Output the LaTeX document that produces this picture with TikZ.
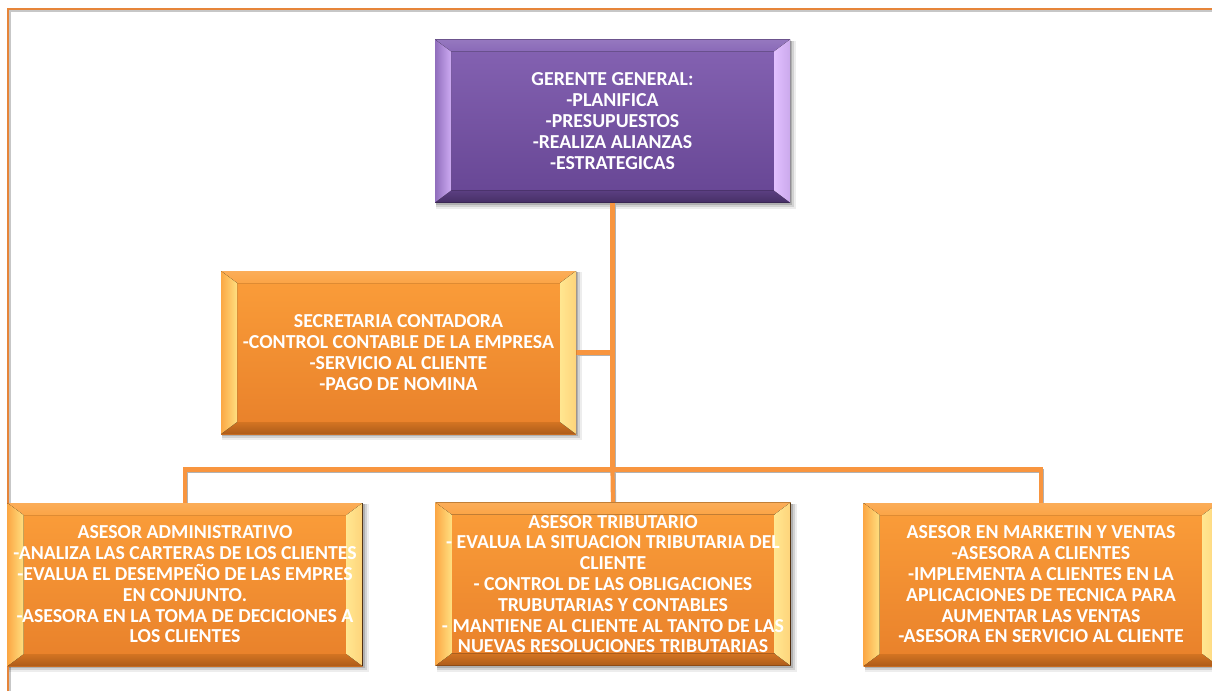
\documentclass[tikz,border=0pt]{standalone}
\usepackage{fontspec}
\setmainfont{Carlito}
\usetikzlibrary{backgrounds}

\definecolor{frameor}{HTML}{E6853A}
\definecolor{linkor}{HTML}{F8953F}
\definecolor{pTop}{HTML}{8563B3}
\definecolor{pBot}{HTML}{664593}
\definecolor{pLeft}{HTML}{CDAAF2}
\definecolor{pRight}{HTML}{E2C0FF}
\definecolor{pUp}{HTML}{8A69B8}
\definecolor{pDown}{HTML}{533878}
\definecolor{oTop}{HTML}{FB9E3A}
\definecolor{oBot}{HTML}{E8802A}
\definecolor{oLeft}{HTML}{FFDF80}
\definecolor{oRight}{HTML}{FFE690}
\definecolor{oUp}{HTML}{FBA446}
\definecolor{oDown}{HTML}{CC6C1E}

% bevelled frame drawn inside a box: #1 left, #2 right, #3 top, #4 bottom, #5 base colour
\newcommand\bevelframe[5]{%
  \coordinate (bNW) at (path picture bounding box.north west);
  \coordinate (bNE) at (path picture bounding box.north east);
  \coordinate (bSW) at (path picture bounding box.south west);
  \coordinate (bSE) at (path picture bounding box.south east);
  \fill[top color=#3!90!white, bottom color=#3]
    (bNW) -- (bNE) -- ([xshift=-16pt,yshift=-12pt]bNE) -- ([xshift=16pt,yshift=-12pt]bNW) -- cycle;
  \fill[top color=#4!85!#5, bottom color=#4!85!black]
    (bSW) -- (bSE) -- ([xshift=-16pt,yshift=12pt]bSE) -- ([xshift=16pt,yshift=12pt]bSW) -- cycle;
  \fill[left color=#5!85!#1, right color=#1]
    (bNW) -- ([xshift=16pt,yshift=-12pt]bNW) -- ([xshift=16pt,yshift=12pt]bSW) -- (bSW) -- cycle;
  \fill[left color=#2, right color=#2!75!#5]
    (bNE) -- ([xshift=-16pt,yshift=-12pt]bNE) -- ([xshift=-16pt,yshift=12pt]bSE) -- (bSE) -- cycle;
}

\tikzset{
  box/.style={rectangle, minimum width=355pt, minimum height=163pt,
    inner sep=0pt, outer sep=0pt, text=white, align=center,
    font=\bfseries\fontsize{19.8}{20.8}\selectfont},
  purplebox/.style={box, top color=pTop, bottom color=pBot,
    path picture={\bevelframe{pLeft}{pRight}{pUp}{pDown}{pTop}}},
  orangebox/.style={box, top color=oTop, bottom color=oBot,
    path picture={\bevelframe{oLeft}{oRight}{oUp}{oDown}{oTop}}},
  link/.style={draw=linkor, line width=4.2pt},
  linkshade/.style={draw=black!30, line width=4.2pt},
}

\newcommand\boxshadow[1]{%
  \foreach \d/\o in {6/0.07,4/0.11,2.2/0.16}{
    \fill[black, opacity=\o]
      ([xshift=1pt,yshift=-\d pt]#1.south west) rectangle ([xshift=\d pt,yshift=-1pt]#1.north east);
  }%
}

\begin{document}
\begin{tikzpicture}[x=1pt, y=-1pt]
  \useasboundingbox (0,0) rectangle (1212,691);
  \clip (0,0) rectangle (1212,691);

  % boxes
  \node[purplebox] (gg) at (612.5,121) {GERENTE GENERAL:\\-PLANIFICA\\-PRESUPUESTOS\\-REALIZA ALIANZAS\\-ESTRATEGICAS};
  \node[orangebox] (sec) at (398.5,352.5) {SECRETARIA CONTADORA\\-CONTROL CONTABLE DE LA EMPRESA\\-SERVICIO AL CLIENTE\\-PAGO DE NOMINA};
  \node[orangebox] (adm) at (185,584.5) {ASESOR ADMINISTRATIVO\\-ANALIZA LAS CARTERAS DE LOS CLIENTES\\-EVALUA EL DESEMPEÑO DE LAS EMPRES\\EN CONJUNTO.\\-ASESORA EN LA TOMA DE DECICIONES A\\LOS CLIENTES};
  \node[orangebox] (trib) at (613,584) {ASESOR TRIBUTARIO\\- EVALUA LA SITUACION TRIBUTARIA DEL\\CLIENTE\\- CONTROL DE LAS OBLIGACIONES\\TRUBUTARIAS Y CONTABLES\\- MANTIENE AL CLIENTE AL TANTO DE LAS\\NUEVAS RESOLUCIONES TRIBUTARIAS};
  \node[orangebox] (mkt) at (1041,584.5) {ASESOR EN MARKETIN Y VENTAS\\-ASESORA A CLIENTES\\-IMPLEMENTA A CLIENTES EN LA\\APLICACIONES DE TECNICA PARA\\AUMENTAR LAS VENTAS\\-ASESORA EN SERVICIO AL CLIENTE};

  \coordinate (hub) at (612.5,469.5);

  \begin{scope}[on background layer]
    \fill[white] (0,0) rectangle (1212,691);
    % page frame
    \draw[black!22, line width=1.2pt] (10,691) -- (10,11) -- (1212,11);
    \draw[frameor, line width=2.8pt] (8,691) -- (8,9) -- (1212,9);
    \boxshadow{gg}
    \boxshadow{sec}
    \boxshadow{adm}
    \boxshadow{trib}
    \boxshadow{mkt}
    % connectors, each drawn over a thin grey edge
    \foreach \s/\dx/\dy in {linkshade/1.1/-1.1, link/0/0}{
      \begin{scope}[transform canvas={xshift=\dx pt, yshift=\dy pt}]
        \draw[\s] (gg.south) -- (hub);
        \draw[\s] (sec.east) -- (sec.east -| gg.south);
        \draw[\s] (adm.north) |- (hub);
        \draw[\s] (hub) -| (mkt.north);
        \draw[\s] (hub) -- (trib.north);
      \end{scope}
    }
  \end{scope}
\end{tikzpicture}
\end{document}
